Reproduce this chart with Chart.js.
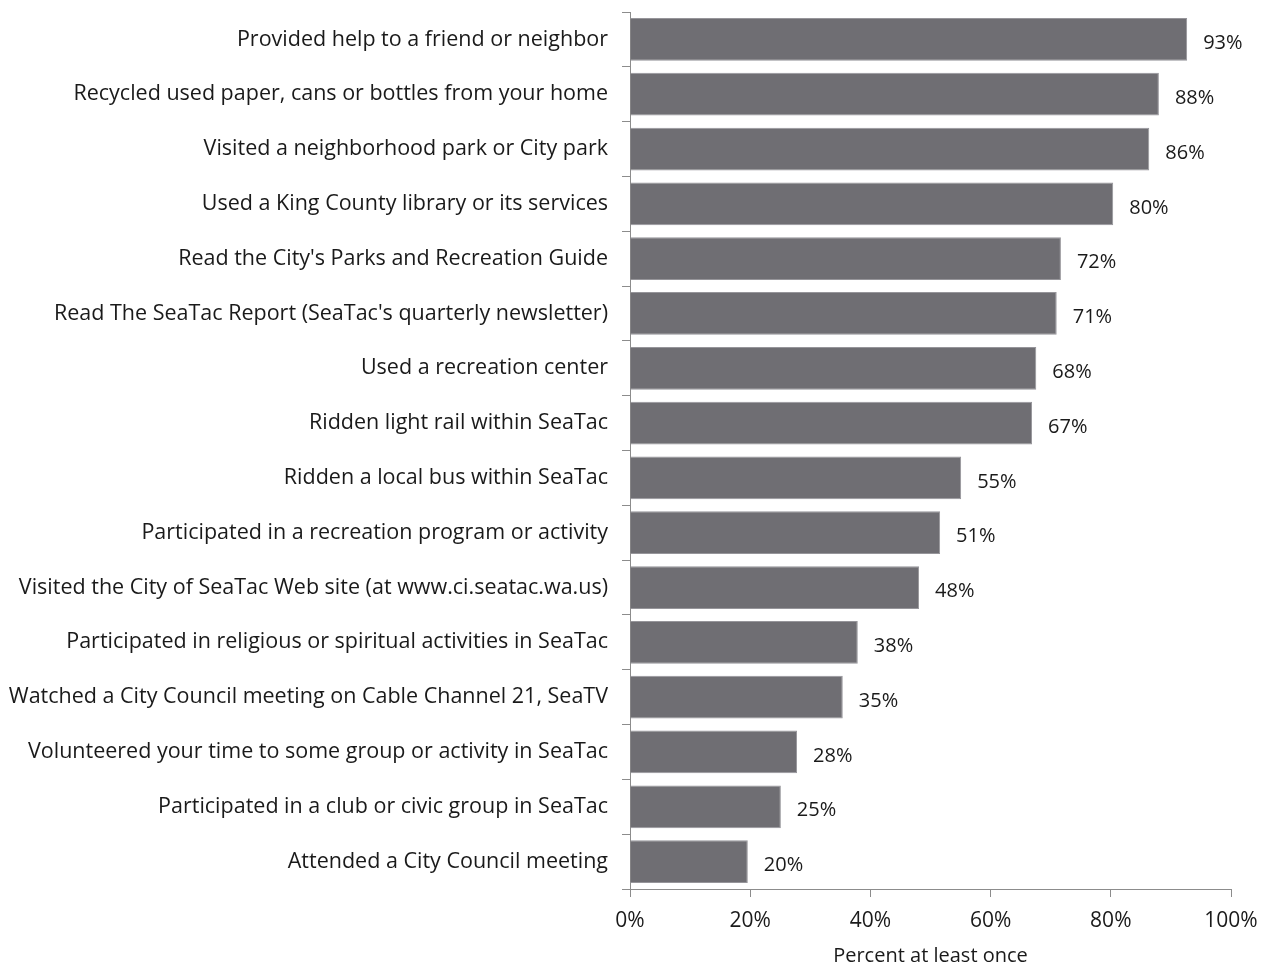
<!DOCTYPE html>
<html>
<head>
<meta charset="utf-8">
<script src="https://cdn.jsdelivr.net/npm/chart.js@4/dist/chart.umd.min.js"></script>
<style>
  html, body { margin: 0; padding: 0; background: #fff; }
  #wrap { width: 1270px; height: 968px; }
</style>
</head>
<body>
<div id="wrap"><canvas id="barChart" width="1270" height="968"></canvas></div>
<script>
// Activities (top to bottom) and share who did each at least once
const activities = [
    "Provided help to a friend or neighbor",
    "Recycled used paper, cans or bottles from your home",
    "Visited a neighborhood park or City park",
    "Used a King County library or its services",
    "Read the City's Parks and Recreation Guide",
    "Read The SeaTac Report (SeaTac's quarterly newsletter)",
    "Used a recreation center",
    "Ridden light rail within SeaTac",
    "Ridden a local bus within SeaTac",
    "Participated in a recreation program or activity",
    "Visited the City of SeaTac Web site (at www.ci.seatac.wa.us)",
    "Participated in religious or spiritual activities in SeaTac",
    "Watched a City Council meeting on Cable Channel 21, SeaTV",
    "Volunteered your time to some group or activity in SeaTac",
    "Participated in a club or civic group in SeaTac",
    "Attended a City Council meeting"
];
const percentValues = [92.7, 88.0, 86.4, 80.4, 71.7, 71.0, 67.6, 66.9, 55.1, 51.6, 48.1, 37.9, 35.4, 27.8, 25.1, 19.6];
const percentLabels = ["93%", "88%", "86%", "80%", "72%", "71%", "68%", "67%", "55%", "51%", "48%", "38%", "35%", "28%", "25%", "20%"];

const FONT = "'Open Sans', 'Liberation Sans', sans-serif";
const TEXT = "#1a1a1a";
const AXIS = "#8c8c8c";

// draw the % label just to the right of each bar
const valueLabels = {
    id: "valueLabels",
    afterDatasetsDraw(chart) {
        const ctx = chart.ctx;
        const meta = chart.getDatasetMeta(0);
        ctx.save();
        ctx.font = "20px " + FONT;
        ctx.fillStyle = TEXT;
        ctx.textAlign = "left";
        ctx.textBaseline = "middle";
        meta.data.forEach((bar, i) => {
            ctx.fillText(percentLabels[i], bar.x + 16, bar.y + 4);
        });
        ctx.restore();
    }
};

const ctx = document.getElementById("barChart").getContext("2d");
new Chart(ctx, {
    type: "bar",
    data: {
        labels: activities,
        datasets: [{
            data: percentValues,
            backgroundColor: "#6f6e73",
            borderColor: "#96959a",
            borderWidth: 1,
            categoryPercentage: 0.78,
            barPercentage: 1.0
        }]
    },
    options: {
        indexAxis: "y",
        responsive: false,
        animation: false,
        layout: { padding: { top: 12, right: 39, bottom: 0, left: 0 } },
        plugins: {
            legend: { display: false },
            tooltip: { enabled: false }
        },
        scales: {
            x: {
                min: 0,
                max: 100,
                afterFit: scale => { scale.height = 79; },
                ticks: {
                    stepSize: 20,
                    color: TEXT,
                    font: { family: FONT, size: 21 },
                    padding: 11,
                    callback: v => v + "%"
                },
                grid: { drawOnChartArea: false, tickLength: 8, color: AXIS },
                border: { color: AXIS, width: 1 },
                title: {
                    display: true,
                    text: "Percent at least once",
                    color: TEXT,
                    font: { family: FONT, size: 20 },
                    padding: { top: 0, bottom: 0 }
                }
            },
            y: {
                afterFit: scale => {
                    scale.width = 630;
                    scale.paddingTop = 0;
                    scale.paddingBottom = 0;
                },
                ticks: {
                    color: TEXT,
                    font: { family: FONT, size: 21.5 },
                    padding: 14,
                    autoSkip: false
                },
                grid: { drawOnChartArea: false, offset: true, tickLength: 8, color: AXIS },
                border: { color: AXIS, width: 1 }
            }
        }
    },
    plugins: [valueLabels]
});
</script>
</body>
</html>
